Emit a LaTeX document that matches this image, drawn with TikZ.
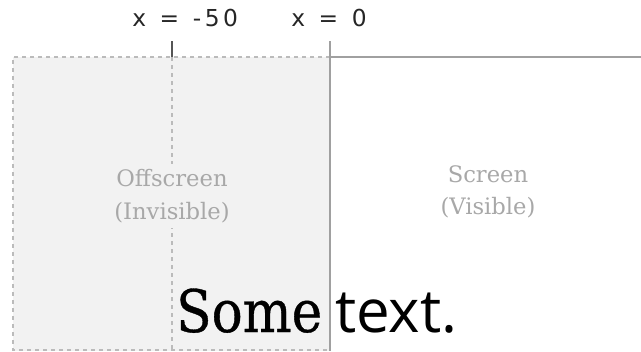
\documentclass[tikz,border=0pt]{standalone}
\usepackage{fontspec}
\setmainfont{DejaVu Serif}
\newfontfamily\zonelabelfont{DejaVu Serif}
\newfontfamily\somefont[FakeStretch=0.88,FakeBold=0.6]{DejaVu Serif}
\newfontfamily\opensansfont{Open Sans}
\newfontfamily\coordfont[LetterSpace=15,WordSpace=1.25]{DejaVu Sans}
\definecolor{offfill}{HTML}{F2F2F2}
\definecolor{dashgray}{HTML}{BBBBBB}
\definecolor{linegray}{HTML}{A0A0A0}
\definecolor{labelgray}{HTML}{A8A8A8}
\definecolor{tickgray}{HTML}{555555}
\tikzset{
  dashline/.style={draw=dashgray, line width=1.1pt, dash pattern=on 3pt off 3pt},
  solidline/.style={draw=linegray, line width=1.4pt},
  tickline/.style={draw=tickgray, line width=1.3pt},
  zonelabel/.style={text=labelgray, align=center, inner sep=4pt, font=\zonelabelfont\fontsize{17}{24.5}\selectfont},
  coordlabel/.style={anchor=base west, inner sep=0pt, text=black!85, font=\coordfont\fontsize{17.5}{20}\selectfont},
}
\begin{document}
\begin{tikzpicture}[x=0.75pt, y=-0.75pt]
\useasboundingbox (0,0) rectangle (641,351);
\coordinate (tl) at (13,57);
\coordinate (bl) at (13,350);
\coordinate (tr) at (330,57);
\coordinate (br) at (330,350);
\coordinate (m50top) at (172,41);
\coordinate (m50) at (172,57);
\coordinate (m50b) at (172,350);
\coordinate (zerotop) at (330,41);
\coordinate (zerob) at (330,351);
\coordinate (right) at (641,57);
\fill[offfill] (tl) rectangle (330,351);
\draw[dashline] (tr) -- (tl) -- (bl) -- (br);
\draw[dashline] (m50) -- (m50b);
\node[zonelabel, fill=offfill] (off) at (172,196) {Offscreen\\(Invisible)};
\node[zonelabel] (on) at (488,192) {Screen\\(Visible)};
\draw[solidline] (zerotop) -- (zerob);
\draw[solidline] (tr) -- (right);
\draw[tickline] (m50top) -- (m50);
\node[coordlabel] (lm50) at (132,26) {x = -50};
\node[coordlabel] (l0) at (291,26) {x = 0};
\node[anchor=base west, inner sep=0pt, font=\somefont\fontsize{44}{50}\selectfont] (some) at (176,332) {Some};
\node[anchor=base west, inner sep=0pt, font=\opensansfont\fontsize{45}{50}\selectfont] (txt) at (335,332) {text.};
\end{tikzpicture}
\end{document}
